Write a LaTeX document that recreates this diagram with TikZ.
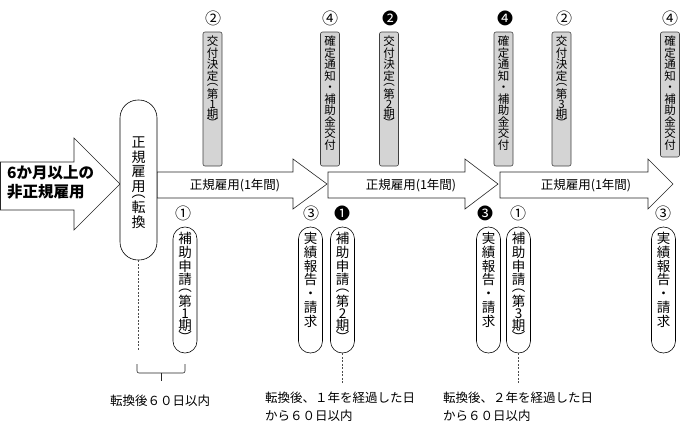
\documentclass[tikz,border=0pt]{standalone}
\usepackage{fontspec}
\setmainfont{Noto Sans CJK JP}
\newdimen\jkd
\newcommand\jc[1]{\hbox to 1em{\hss\vrule width0pt height .86em depth .14em\relax#1\hss}\kern\jkd}
\newcommand\jh[2][.55em]{\vbox to #1{\vss\hbox to 1em{\hss#2\hss}\vss}\kern\jkd}
\newcommand\vstk[2]{\vbox{\offinterlineskip\jkd=#1\relax#2}}
\newcommand\kofu[1]{\vstk{0pt}{\jc{交}\jc{付}\jc{決}\jc{定}\jh{︵}\jc{第}\jh[.75em]{#1}\jc{期}\jh{︶}}}
\newcommand\kakutei{\vstk{0pt}{\jc{確}\jc{定}\jc{通}\jc{知}\jc{・}\jc{補}\jc{助}\jc{金}\jc{交}\jc{付}}}
\newcommand\hojo[1]{\vstk{0.3pt}{\jc{補}\jc{助}\jc{申}\jc{請}\jh{︵}\jc{第}\jh[.75em]{#1}\jc{期}\jh{︶}}}
\newcommand\jisseki{\vstk{0.3pt}{\jc{実}\jc{績}\jc{報}\jc{告}\jc{・}\jc{請}\jc{求}}}
\begin{document}
\begin{tikzpicture}[x=1pt,y=-1pt,
  lw/.style={line width=0.6pt, draw=black!85},
  arr/.style={draw=black!85, line width=0.6pt, fill=white},
  gbox/.style={draw=black!75, fill=black!17, rounded corners=2pt, line width=0.6pt, inner sep=0pt, minimum width=19pt},
  wbox/.style={draw=black, fill=white, line width=0.6pt, inner sep=0pt},
  vtop/.style={inner sep=0pt, anchor=north, font=\fontsize{11.5}{12}\selectfont},
  vbot/.style={inner sep=0pt, anchor=north, font=\fontsize{13.5}{14}\selectfont},
  num/.style={inner sep=0pt, font=\fontsize{16}{16}\selectfont},
  lbl/.style={inner sep=0pt, font=\fontsize{12.5}{13}\selectfont},
  note/.style={inner sep=0pt, anchor=west, align=left, font=\fontsize{12.5}{17.5}\selectfont},
  dsh/.style={draw=black!70, line width=0.6pt, dash pattern=on 2pt off 1.5pt}
]
\useasboundingbox (0,0) rectangle (690,429);

% big source arrow
\draw[arr] (0.5,162) -- (74,162) -- (74,138) -- (120,184) -- (74,230) -- (74,210) -- (0.5,210) -- cycle;
\node[inner sep=0pt, anchor=west, align=left, font=\bfseries\fontsize{15.5}{19}\selectfont] (src) at (7,182) {6か月以上の\\非正規雇用};

% period arrows
\draw[arr] (157,172) -- (293,172) -- (293,159) -- (327,184) -- (293,209) -- (293,198) -- (157,198) -- cycle;
\draw[arr] (328,172) -- (465,172) -- (465,159) -- (498,184) -- (465,209) -- (465,198) -- (328,198) -- cycle;
\draw[arr] (500,172) -- (648,172) -- (648,159) -- (673,184) -- (648,209) -- (648,198) -- (500,198) -- cycle;
\node[lbl] (r1) at (235,185) {正規雇用(1年間)};
\node[lbl] (r2) at (411,185) {正規雇用(1年間)};
\node[lbl] (r3) at (586,185) {正規雇用(1年間)};

% conversion box
\node[wbox, rounded corners=18pt, minimum width=37pt, minimum height=160pt] (L) at (138.5,180) {};
\node[inner sep=0pt, anchor=north, font=\fontsize{14}{14}\selectfont] (Lt) at ([yshift=-36pt]L.north)
  {\vstk{0.5pt}{\jc{正}\jc{規}\jc{雇}\jc{用}\jh[.45em]{︵}\jc{転}\jc{換}}};

% top gray boxes
\node[gbox, minimum height=134pt] (g1) at (212.5,99) {};
\node[gbox, minimum height=134pt] (g2) at (330,99) {};
\node[gbox, minimum height=134pt] (g3) at (389,99) {};
\node[gbox, minimum height=134pt] (g4) at (503.5,99) {};
\node[gbox, minimum height=134pt] (g5) at (561.5,99) {};
\node[gbox, minimum height=125pt] (g6) at (670,94.5) {};
\node[vtop] (tg1) at ([yshift=-4pt]g1.north) {\kofu{1}};
\node[vtop] (tg2) at ([yshift=-4pt]g2.north) {\kakutei};
\node[vtop] (tg3) at ([yshift=-4pt]g3.north) {\kofu{2}};
\node[vtop] (tg4) at ([yshift=-4pt]g4.north) {\kakutei};
\node[vtop] (tg5) at ([yshift=-4pt]g5.north) {\kofu{3}};
\node[vtop] (tg6) at ([yshift=-4pt]g6.north) {\kakutei};
\node[num] (ng1) at (213,18) {②};
\node[num] (ng2) at (330,18) {④};
\node[num] (ng3) at (390,18) {❷};
\node[num] (ng4) at (505,18) {❹};
\node[num] (ng5) at (564,18) {②};
\node[num] (ng6) at (670,18) {④};

% bottom boxes
\node[wbox, rounded corners=11.9pt, minimum width=24pt, minimum height=126pt] (b1) at (185,290) {};
\node[wbox, rounded corners=11.9pt, minimum width=24pt, minimum height=126pt] (b2) at (310.5,290) {};
\node[wbox, rounded corners=11.9pt, minimum width=24pt, minimum height=126pt] (b3) at (342.5,290) {};
\node[wbox, rounded corners=11.9pt, minimum width=24pt, minimum height=126pt] (b4) at (488.5,290) {};
\node[wbox, rounded corners=11.9pt, minimum width=24pt, minimum height=126pt] (b5) at (518.5,290) {};
\node[wbox, rounded corners=11.9pt, minimum width=24pt, minimum height=126pt] (b6) at (663.5,290) {};
\node[vbot] (tb1) at ([yshift=-5pt]b1.north) {\hojo{1}};
\node[vbot] (tb2) at ([yshift=-5pt]b2.north) {\jisseki};
\node[vbot] (tb3) at ([yshift=-5pt]b3.north) {\hojo{2}};
\node[vbot] (tb4) at ([yshift=-5pt]b4.north) {\jisseki};
\node[vbot] (tb5) at ([yshift=-5pt]b5.north) {\hojo{3}};
\node[vbot] (tb6) at ([yshift=-5pt]b6.north) {\jisseki};
\node[num] (nb1) at (183,213) {①};
\node[num] (nb2) at (311,213) {③};
\node[num] (nb3) at (342,213) {❶};
\node[num] (nb4) at (485,213) {❸};
\node[num] (nb5) at (518,213) {①};
\node[num] (nb6) at (663,213) {③};

% dashed leaders and bracket
\coordinate (d0) at (138.5,350);
\coordinate (d3) at (342.5,383);
\coordinate (d5) at (518.5,383);
\draw[dsh] (L.south) -- (d0);
\draw[dsh] (b3.south) -- (d3);
\draw[dsh] (b5.south) -- (d5);
\draw[lw, rounded corners=2pt] (137,364) -- (137,373) -- (185,373) -- (185,364);
\draw[lw] (161,373) -- (161,381);

% notes
\node[lbl] (n0) at (160,401) {転換後６０日以内};
\node[note] (n1) at (265,406.5) {転換後、１年を経過した日\\から６０日以内};
\node[note] (n2) at (443,406.5) {転換後、２年を経過した日\\から６０日以内};
\end{tikzpicture}
\end{document}
